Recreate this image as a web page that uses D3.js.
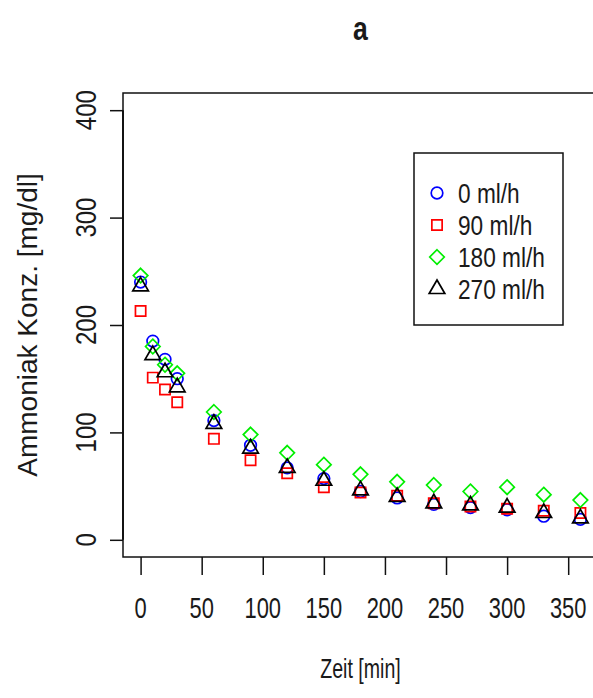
<!DOCTYPE html>
<html>
<head>
<meta charset="utf-8">
<script src="https://cdn.jsdelivr.net/npm/d3@7"></script>
<style>
  body { margin: 0; background: #fff; }
  text { font-family: 'Liberation Sans', Arial, sans-serif; fill: #1a1a1a; }
</style>
</head>
<body>
<div id="chart"></div>
<script>
// Data
const times = [0, 10, 20, 30, 60, 90, 120, 150, 180, 210, 240, 270, 300, 330, 360];
const conc0 = [240, 185, 168, 150, 111, 88, 67, 57, 45, 39, 33, 30, 28, 22, 19];
const conc90 = [213, 151, 140, 128, 94, 74, 62, 49, 44, 41, 34, 31, 29, 27, 25];
const conc180 = [246, 180, 163, 155, 119, 98, 81, 70, 61, 54, 51, 45, 49, 42, 37];
const conc270 = [236, 172, 156, 142, 108, 85, 67, 55, 46, 40, 34, 32, 30, 25, 20];
const seriesNames = ['0 ml/h', '90 ml/h', '180 ml/h', '270 ml/h'];
const xTicks = [0, 50, 100, 150, 200, 250, 300, 350];
const yTicks = [0, 100, 200, 300, 400];

const width = 593;
const height = 698;

// Plot box (R style, axes extended 4%)
const boxLeft = 123;
const boxRight = 598;
const boxTop = 93;
const boxBottom = 557;

const fontSize = 30;
const squeeze = 0.73;

const svg = d3.select('#chart')
  .append('svg')
  .attr('width', width)
  .attr('height', height);

const x = d3.scaleLinear().domain([-14.4, 374.4]).range([boxLeft, boxRight]);
const y = d3.scaleLinear().domain([-16, 416]).range([boxBottom, boxTop]);

// helper for the narrow looking text
function label(px, py, txt, opts = {}) {
  const rot = opts.rotate ? ' rotate(-90)' : '';
  return svg.append('text')
    .attr('transform', `translate(${px},${py})${rot} scale(${opts.sx || squeeze},1)`)
    .attr('text-anchor', opts.anchor || 'middle')
    .attr('dominant-baseline', 'central')
    .style('font-size', (opts.size || fontSize) + 'px')
    .style('font-weight', opts.bold ? 'bold' : 'normal')
    .text(txt);
}

// Box
svg.append('rect')
  .attr('x', boxLeft)
  .attr('y', boxTop)
  .attr('width', boxRight - boxLeft)
  .attr('height', boxBottom - boxTop)
  .style('fill', 'none')
  .style('stroke', '#111')
  .style('stroke-width', 1.5);

// Axes
const xAxis = d3.axisBottom(x).tickValues(xTicks).tickSize(18).tickFormat('');
const yAxis = d3.axisLeft(y).tickValues(yTicks).tickSize(13).tickFormat('');

svg.append('g')
  .attr('transform', `translate(0,${boxBottom})`)
  .call(xAxis)
  .call(g => g.select('.domain').remove())
  .selectAll('line').style('stroke', '#111').style('stroke-width', 1.5);

svg.append('g')
  .attr('transform', `translate(${boxLeft},0)`)
  .call(yAxis)
  .call(g => g.select('.domain').attr('d', `M0,${y(0)}V${y(400)}`).style('stroke-width', 1.5))
  .selectAll('line').style('stroke', '#111').style('stroke-width', 1.5);

xTicks.forEach(t => label(x(t), 608, t));
yTicks.forEach(t => label(86, y(t), t, { rotate: true, sx: 0.8 }));

// Titles
label((boxLeft + boxRight) / 2, 28, 'a', { bold: true, size: 34, sx: 0.78 });
label((boxLeft + boxRight) / 2, 668, 'Zeit [min]', { size: 28, sx: 0.7 });
label(27, (boxTop + boxBottom) / 2, 'Ammoniak Konz. [mg/dl]', { rotate: true, size: 28, sx: 1.0 });

// Marker shapes (R pch 1, 0, 5, 2)
const R = 5.8;
const shapes = [
  { color: '#0000ff', path: `M${-R},0a${R},${R} 0 1,0 ${2 * R},0a${R},${R} 0 1,0 ${-2 * R},0Z` },
  { color: '#ff0000', path: (() => { const s = 0.886 * R; return `M${-s},${-s}H${s}V${s}H${-s}Z`; })() },
  { color: '#00ee00', path: (() => { const d = 1.253 * R; return `M0,${-d}L${d},0L0,${d}L${-d},0Z`; })() },
  { color: '#000000', path: `M0,${-1.555 * R}L${1.347 * R},${0.778 * R}L${-1.347 * R},${0.778 * R}Z` }
];

const allSeries = [conc0, conc90, conc180, conc270];

allSeries.forEach((vals, i) => {
  svg.append('g')
    .selectAll('path')
    .data(vals.map((v, j) => ({ t: times[j], v: v })))
    .enter().append('path')
    .attr('d', shapes[i].path)
    .attr('transform', d => `translate(${x(d.t)},${y(d.v)})`)
    .style('fill', 'none')
    .style('stroke', shapes[i].color)
    .style('stroke-width', 1.7);
});

// Legend
const legend = svg.append('g');
legend.append('rect')
  .attr('x', 414)
  .attr('y', 153)
  .attr('width', 149)
  .attr('height', 172)
  .style('fill', '#fff')
  .style('stroke', '#111')
  .style('stroke-width', 1.5);

seriesNames.forEach((name, i) => {
  const ry = 193 + i * 32;
  legend.append('path')
    .attr('d', shapes[i].path)
    .attr('transform', `translate(437,${ry})`)
    .style('fill', 'none')
    .style('stroke', shapes[i].color)
    .style('stroke-width', 1.7);
  label(458, ry, name, { anchor: 'start', size: 27, sx: 0.84 });
});
</script>
</body>
</html>
